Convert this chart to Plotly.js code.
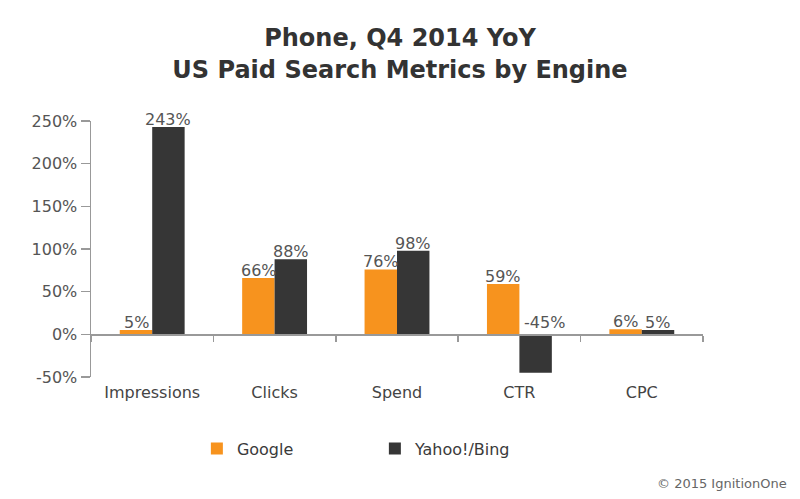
<!DOCTYPE html>
<html>
<head>
<meta charset="utf-8">
<script src="https://cdn.plot.ly/plotly-3.0.1.min.js"></script>
<style>html,body{margin:0;padding:0;background:#fff;}#chart{width:800px;height:499px;}</style>
</head>
<body>
<div id="chart"></div>
<script>
const categories = ["Impressions", "Clicks", "Spend", "CTR", "CPC"];
const googleValues = [5, 66, 76, 59, 6];
const yahooValues = [243, 88, 98, -45, 5];
const seriesNames = ["Google", "Yahoo!/Bing"];
const yTickValues = [-50, 0, 50, 100, 150, 200, 250];
const yTickLabels = ["-50%", "0%", "50%", "100%", "150%", "200%", "250%"];

const orange = "#F7931E";
const dark = "#363636";
const font = "'DejaVu Sans', Verdana, sans-serif";

const traces = [
  {type: "bar", name: seriesNames[0], x: categories, y: googleValues, marker: {color: orange}, hoverinfo: "none"},
  {type: "bar", name: seriesNames[1], x: categories, y: yahooValues, marker: {color: dark}, hoverinfo: "none"},
  // invisible helper so the zero-line category axis (xaxis2) is drawn
  {type: "scatter", mode: "markers", x: categories, y: googleValues, xaxis: "x2", yaxis: "y",
   marker: {opacity: 0}, showlegend: false, hoverinfo: "none"}
];

const annotations = [];
[googleValues, yahooValues].forEach((vals, si) => {
  vals.forEach((v, i) => {
    annotations.push({
      xref: "x", yref: "y", x: categories[i], y: Math.max(v, 0),
      text: v + "%", showarrow: false, yanchor: "bottom",
      xshift: si === 0 ? -16 : (v < 0 ? 25 : 16), yshift: v < 0 ? 0 : -4,
      font: {family: font, size: 16, color: "#555"}
    });
  });
});
annotations.push({
  xref: "paper", yref: "paper", x: 1.14, y: -0.415, xanchor: "right", yanchor: "middle",
  text: "© 2015 IgnitionOne", showarrow: false,
  font: {family: font, size: 13, color: "#666"}
});

const layout = {
  width: 800, height: 499,
  margin: {l: 91, r: 97, t: 121, b: 122},
  paper_bgcolor: "#fff", plot_bgcolor: "#fff",
  title: {
    text: "<b>Phone, Q4 2014 YoY</b><br><b>US Paid Search Metrics by Engine</b>",
    x: 0.5, xanchor: "center", y: 0.907, yanchor: "top",
    font: {family: font, size: 24, color: "#333"}
  },
  barmode: "group", bargap: 0.47, bargroupgap: 0,
  showlegend: true,
  legend: {
    orientation: "h", x: 0.173, xanchor: "left", y: -0.28, yanchor: "middle",
    font: {family: font, size: 16, color: "#3a3a3a"}, entrywidth: 133, entrywidthmode: "pixels"
  },
  xaxis: {
    type: "category", categoryarray: categories, showline: false, ticks: "",
    showgrid: false, zeroline: false, ticklabelstandoff: 4,
    tickfont: {family: font, size: 16, color: "#444"}
  },
  xaxis2: {
    type: "category", overlaying: "x", matches: "x", anchor: "free", position: 50/300,
    showline: true, linecolor: "#999", linewidth: 1.5,
    ticks: "outside", tickson: "boundaries", ticklen: 6, tickcolor: "#999", tickwidth: 1.5,
    showticklabels: false, showgrid: false, zeroline: false
  },
  yaxis: {
    range: [-50, 250], tickvals: yTickValues, ticktext: yTickLabels,
    showline: true, linecolor: "#999", linewidth: 1.5,
    ticks: "outside", ticklen: 9, tickcolor: "#999", tickwidth: 1.5,
    showgrid: false, zeroline: false,
    tickfont: {family: font, size: 16, color: "#555"}
  },
  annotations: annotations
};

Plotly.newPlot("chart", traces, layout, {displayModeBar: false, staticPlot: true});
</script>
</body>
</html>
